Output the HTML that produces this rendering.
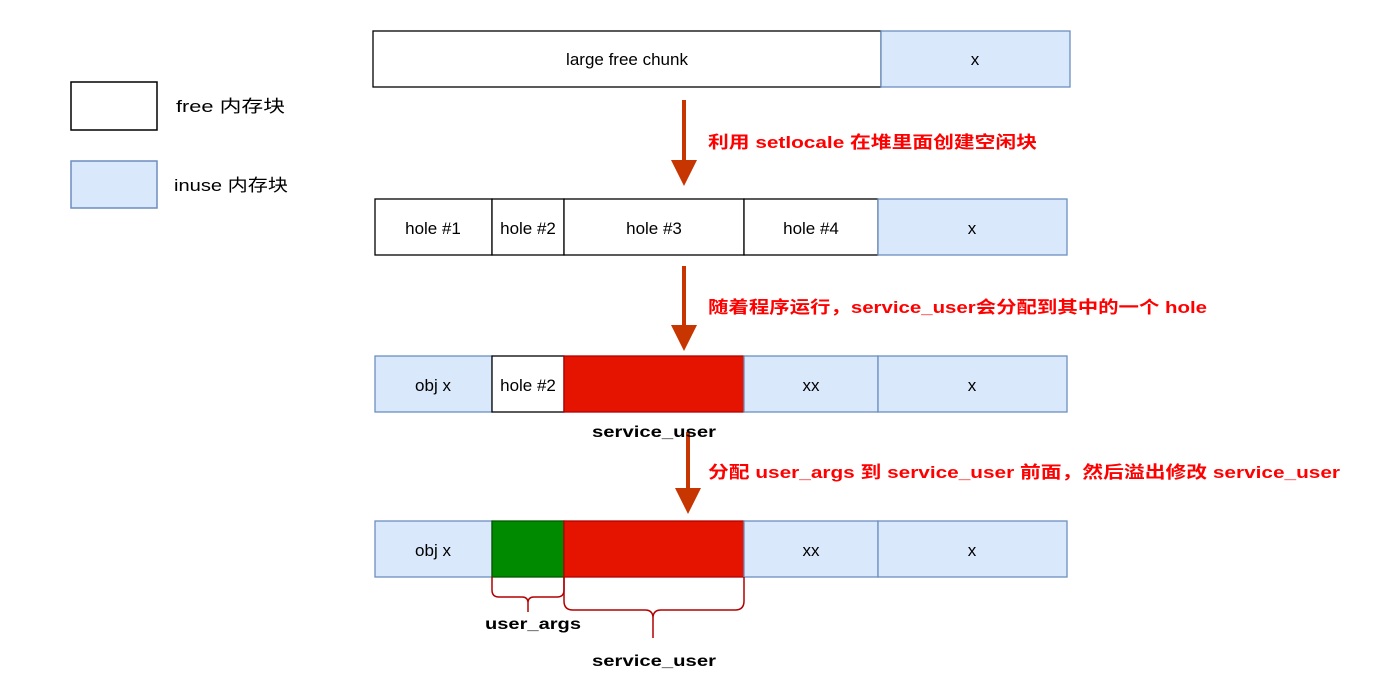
<!DOCTYPE html>
<html><head><meta charset="utf-8"><style>
body{margin:0;background:#fff;}
text{font-family:"Liberation Sans","Noto Sans CJK SC",sans-serif;}
</style></head><body>
<svg width="1376" height="692" xmlns="http://www.w3.org/2000/svg">
<defs>
<g id="ah"><path d="M-13,-26 L13,-26 L0,0 Z" fill="#c73500"/></g>
</defs>
<rect x="71" y="82" width="86" height="48" fill="#fff" stroke="#000" stroke-width="1.5"/>
<rect x="71" y="161" width="86" height="47" fill="#dae8fc" stroke="#6c8ebf" stroke-width="1.5"/>
<text x="176" y="112" font-size="17" textLength="109" lengthAdjust="spacingAndGlyphs">free 内存块</text>
<text x="174" y="191" font-size="17" textLength="114" lengthAdjust="spacingAndGlyphs">inuse 内存块</text>
<g font-size="17" text-anchor="middle" fill="#000">
<rect x="373" y="31" width="508" height="56" fill="#fff" stroke="#000" stroke-width="1.3"/>
<rect x="881" y="31" width="189" height="56" fill="#dae8fc" stroke="#6c8ebf" stroke-width="1.3"/>
<text x="627" y="65">large free chunk</text><text x="975" y="65">x</text>
<rect x="375" y="199" width="117" height="56" fill="#fff" stroke="#000" stroke-width="1.3"/>
<rect x="492" y="199" width="72" height="56" fill="#fff" stroke="#000" stroke-width="1.3"/>
<rect x="564" y="199" width="180" height="56" fill="#fff" stroke="#000" stroke-width="1.3"/>
<rect x="744" y="199" width="134" height="56" fill="#fff" stroke="#000" stroke-width="1.3"/>
<rect x="878" y="199" width="189" height="56" fill="#dae8fc" stroke="#6c8ebf" stroke-width="1.3"/>
<text x="433" y="234">hole #1</text><text x="528" y="234">hole #2</text><text x="654" y="234">hole #3</text><text x="811" y="234">hole #4</text><text x="972" y="234">x</text>
<rect x="375" y="356" width="117" height="56" fill="#dae8fc" stroke="#6c8ebf" stroke-width="1.3"/>
<rect x="492" y="356" width="72" height="56" fill="#fff" stroke="#000" stroke-width="1.3"/>
<rect x="564" y="356" width="180" height="56" fill="#e51400" stroke="#b20000" stroke-width="1.3"/>
<rect x="744" y="356" width="134" height="56" fill="#dae8fc" stroke="#6c8ebf" stroke-width="1.3"/>
<rect x="878" y="356" width="189" height="56" fill="#dae8fc" stroke="#6c8ebf" stroke-width="1.3"/>
<text x="433" y="391">obj x</text><text x="528" y="391">hole #2</text><text x="811" y="391">xx</text><text x="972" y="391">x</text>
<rect x="375" y="521" width="117" height="56" fill="#dae8fc" stroke="#6c8ebf" stroke-width="1.3"/>
<rect x="492" y="521" width="72" height="56" fill="#008a00" stroke="#005700" stroke-width="1.3"/>
<rect x="564" y="521" width="180" height="56" fill="#e51400" stroke="#b20000" stroke-width="1.3"/>
<rect x="744" y="521" width="134" height="56" fill="#dae8fc" stroke="#6c8ebf" stroke-width="1.3"/>
<rect x="878" y="521" width="189" height="56" fill="#dae8fc" stroke="#6c8ebf" stroke-width="1.3"/>
<text x="433" y="556">obj x</text><text x="811" y="556">xx</text><text x="972" y="556">x</text>
</g>
<line x1="684" y1="100" x2="684" y2="162" stroke="#c73500" stroke-width="4"/><use href="#ah" x="684" y="186"/>
<line x1="684" y1="266" x2="684" y2="327" stroke="#c73500" stroke-width="4"/><use href="#ah" x="684" y="351"/>
<line x1="688" y1="432" x2="688" y2="490" stroke="#c73500" stroke-width="4"/><use href="#ah" x="688" y="514"/>
<g font-size="17" font-weight="bold" fill="#ff0000">
<text x="708" y="148" textLength="329" lengthAdjust="spacingAndGlyphs">利用 setlocale 在堆里面创建空闲块</text>
<text x="708" y="313" textLength="499" lengthAdjust="spacingAndGlyphs">随着程序运行，service_user会分配到其中的一个 hole</text>
<text x="708" y="478" textLength="632" lengthAdjust="spacingAndGlyphs">分配 user_args 到 service_user 前面，然后溢出修改 service_user</text>
</g>
<g font-size="16" font-weight="bold">
<text x="592" y="437" textLength="124" lengthAdjust="spacingAndGlyphs">service_user</text>
<text x="485" y="629" textLength="96" lengthAdjust="spacingAndGlyphs">user_args</text>
<text x="592" y="666" textLength="124" lengthAdjust="spacingAndGlyphs">service_user</text>
</g>
<path d="M492,577 V590 Q492,597 499,597 H522 Q528,597 528,603 V612 M528,603 Q528,597 534,597 H557 Q564,597 564,590 V577" fill="none" stroke="#b20000" stroke-width="1.5"/>
<path d="M564,577 V601 Q564,610 573,610 H645 Q653,610 653,618 V638 M653,618 Q653,610 661,610 H735 Q744,610 744,601 V577" fill="none" stroke="#b20000" stroke-width="1.5"/>
</svg>
</body></html>
